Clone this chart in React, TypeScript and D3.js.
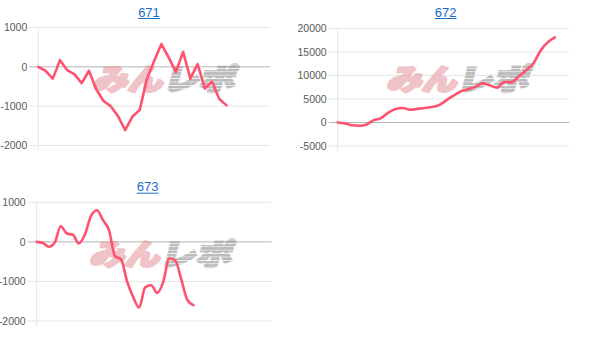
import React from "react";
import * as d3 from "d3";

const titles = ["671", "672", "673"];
const series671 = [0, -100, -300, 170, -85, -190, -415, -100, -570, -870, -1000, -1250, -1610, -1265, -1100, -310, 150, 580, 240, -130, 380, -300, 70, -550, -380, -820, -980];
const series672 = [0, -200, -600, -700, -420, 500, 930, 2100, 2880, 3060, 2710, 2880, 3070, 3280, 3670, 4700, 5700, 6600, 7050, 7550, 8300, 7880, 7370, 8570, 8570, 9750, 11050, 12450, 15200, 17000, 18070];
const series673 = [0, -25, -125, -15, 395, 210, 180, -40, 185, 650, 800, 550, 295, -360, -440, -1000, -1390, -1660, -1150, -1095, -1290, -1010, -420, -470, -950, -1470, -1600];
const ticksSmall = [1000, 0, -1000, -2000];
const ticksLarge = [20000, 15000, 10000, 5000, 0, -5000];

const panels = [
  { title: titles[0], data: series671, ticks: ticksSmall, domain: [-2000, 1000], slots: 33, left: 38.3, right: 270, top: 27.5, bottom: 145.5, tx: 149, ty: 12, wx: 166, wy: 79, curve: d3.curveLinear },
  { title: titles[1], data: series672, ticks: ticksLarge, domain: [-5000, 20000], slots: 33, left: 337.7, right: 569.3, top: 28.3, bottom: 146, tx: 445.7, ty: 12, wx: 460, wy: 79, curve: d3.curveMonotoneX },
  { title: titles[2], data: series673, ticks: ticksSmall, domain: [-2000, 1000], slots: 40, left: 36.7, right: 271.7, top: 202.3, bottom: 321, tx: 147.7, ty: 186.7, wx: 163, wy: 254, curve: d3.curveMonotoneX },
];

const LINE = "#ff5271";

function Panel({ p, i }: { p: any; i: number }) {
  const x = d3.scaleLinear().domain([0, p.slots - 1]).range([p.left, p.right]);
  const y = d3.scaleLinear().domain(p.domain).range([p.bottom, p.top]);
  const line = d3.line<number>().x((_, k) => x(k)).y((v) => y(v)).curve(p.curve);
  const titleW = p.title.length * 7.25;
  return (
    <g>
      {p.ticks.map((t: number) => (
        <g key={t}>
          <line x1={p.left - 9} x2={p.right} y1={y(t)} y2={y(t)} stroke={t === 0 ? "#b4b4b4" : "#e6e6e6"} strokeWidth={1} />
          <text x={p.left - 11} y={y(t)} dy="0.35em" textAnchor="end" fontSize={10.5} fill="#5a5a5a" fontFamily="Liberation Sans, Arial, sans-serif">{t}</text>
        </g>
      ))}
      <line x1={p.left} x2={p.left} y1={p.top} y2={p.bottom + 5} stroke="#e6e6e6" strokeWidth={1} />
      <g transform={`translate(${p.wx},${p.wy}) skewX(-14)`} fontFamily="Noto Sans CJK JP, sans-serif" fontWeight={900} fontSize={29}>
        <g opacity={0.5}>
          <text x={-71} y={11} textLength={70} lengthAdjust="spacingAndGlyphs" fill="#e08890" stroke="#e08890" strokeWidth={2.6} strokeLinejoin="round">みん</text>
        </g>
        <g opacity={0.7}>
          <text x={-1} y={11} textLength={72} lengthAdjust="spacingAndGlyphs" fill={`url(#stripes${i})`} stroke={`url(#stripes${i})`} strokeWidth={2.6}>レポ</text>
        </g>
      </g>
      <path d={line(p.data) || ""} fill="none" stroke={LINE} strokeWidth={2.6} strokeLinejoin="round" strokeLinecap="round" />
      <text x={p.tx} y={p.ty} dy="0.35em" textAnchor="middle" fontSize={13} fill="#1a6dc8" fontFamily="Liberation Sans, Arial, sans-serif">{p.title}</text>
      <line x1={p.tx - titleW / 2} x2={p.tx + titleW / 2} y1={p.ty + 6.5} y2={p.ty + 6.5} stroke="#1a6dc8" strokeWidth={1} />
    </g>
  );
}

export default function App() {
  return (
    <svg width={600} height={344} style={{ position: "absolute", left: 0, top: 0, background: "#fff" }}>
      <defs>
        {panels.map((p, i) => (
          <pattern key={i} id={`stripes${i}`} patternUnits="userSpaceOnUse" width={6} height={3.4}>
            <rect x={0} y={0} width={6} height={2.6} fill="#a0a0a0" />
          </pattern>
        ))}
      </defs>
      {panels.map((p, i) => (
        <Panel key={i} p={p} i={i} />
      ))}
    </svg>
  );
}
